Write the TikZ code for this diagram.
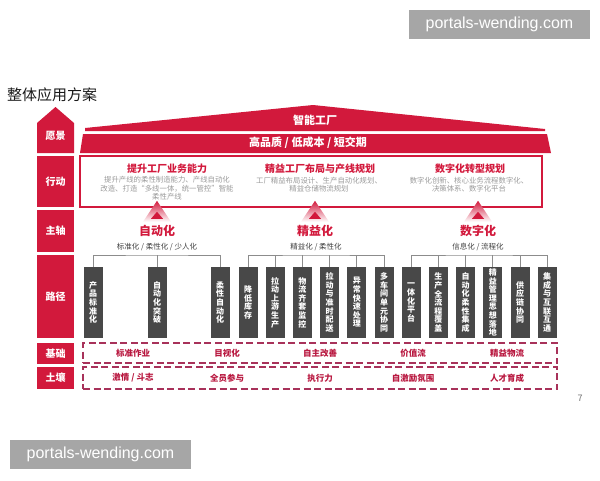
\documentclass[tikz,border=0pt]{standalone}
\usepackage{fontspec}
\setmainfont{Noto Sans CJK SC}
\newfontfamily\wmfont{Liberation Sans}
\definecolor{fangred}{HTML}{D2193C}
\definecolor{colgray}{HTML}{484848}
\definecolor{dashred}{HTML}{A8325A}
\definecolor{basered}{HTML}{B8173F}
\definecolor{subgray}{HTML}{9A9A9A}
\definecolor{wmgray}{HTML}{A6A6A6}
\tikzset{
  rowlabel/.style={fill=fangred,text=white,font=\fontsize{10}{10}\selectfont\bfseries,minimum width=37,inner sep=0pt},
  roofword/.style={text=white,font=\fontsize{11}{11}\selectfont\bfseries,inner sep=0pt},
  acttitle/.style={text=fangred,font=\fontsize{10}{10}\selectfont\bfseries,inner sep=0pt},
  actsub/.style={text=subgray,font=\fontsize{7.4}{8.6}\selectfont,align=center,inner sep=0pt},
  axistitle/.style={text=fangred,font=\fontsize{12}{12}\selectfont\bfseries,inner sep=0pt},
  axissub/.style={text=black!75,font=\fontsize{7.5}{7.5}\selectfont,inner sep=0pt},
  pathcol/.style={fill=colgray,text=white,minimum width=19,minimum height=71,inner sep=0pt,align=center,font=\fontsize{8}{8.6}\selectfont\bfseries},
  bracket/.style={draw=black!45,line width=0.8pt},
  dashbox/.style={draw=dashred,line width=1.8pt,dash pattern=on 7pt off 3.5pt,minimum width=474,minimum height=20,inner sep=0pt},
  baseword/.style={text=basered,font=\fontsize{8.5}{8.5}\selectfont\bfseries,inner sep=0pt},
  watermark/.style={fill=wmgray,text=white,minimum width=181,minimum height=29,inner sep=0pt,font=\wmfont\fontsize{16}{16}\selectfont}
}

\begin{document}
\begin{tikzpicture}[x=1pt,y=-1pt]
  \useasboundingbox (0,0) rectangle (600,480);
  \node[anchor=west,text=black!90,font=\fontsize{15}{15}\selectfont,inner sep=0pt] (title) at (7,95) {整体应用方案};

  % left column
  \fill[fangred] (37,153) -- (37,123) -- (55.5,107) -- (74,123) -- (74,153) -- cycle;
  \node[rowlabel,fill=none] (yj) at (55.5,136) {愿景};
  \node[rowlabel,minimum height=51] (xd) at (55.5,181.5) {行动};
  \node[rowlabel,minimum height=42] (zz) at (55.5,231) {主轴};
  \node[rowlabel,minimum height=83] (lj) at (55.5,296.5) {路径};
  \node[rowlabel,minimum height=21] (jcl) at (55.5,353.5) {基础};
  \node[rowlabel,minimum height=22] (trl) at (55.5,378) {土壤};

  % roof
  \fill[fangred] (85,131) -- (85,128) -- (313,105) -- (545,129) -- (545,131) -- cycle;
  \fill[fangred] (83,134) -- (547,134) -- (551,153) -- (80,153) -- cycle;
  \node[roofword] (vision) at (315,120) {智能工厂};
  \node[roofword] (goals) at (308,143) {高品质 / 低成本 / 短交期};

  % actions
  \node[draw=fangred,line width=1.5pt,minimum width=462,minimum height=51,inner sep=0pt] (act) at (311,181.5) {};
  \node[acttitle] (t1) at (167,169) {提升工厂业务能力};
  \node[actsub] (s1) at (167,188.5) {提升产线的柔性制造能力、产线自动化\\改造、打造“多线一体，统一管控”智能\\柔性产线};
  \node[acttitle] (t2) at (320,169) {精益工厂布局与产线规划};
  \node[actsub] (s2) at (319,184.5) {工厂精益布局设计、生产自动化规划、\\精益仓储物流规划};
  \node[acttitle] (t3) at (470,169) {数字化转型规划};
  \node[actsub] (s3) at (469,184.5) {数字化创新、核心业务流程数字化、\\决策体系、数字化平台};

  % main axis
  \node[axistitle] (ax1) at (157,231) {自动化};
  \node[axistitle] (ax2) at (315,231) {精益化};
  \node[axistitle] (ax3) at (478,231) {数字化};
  \node[axissub] (sb1) at (157,247) {标准化 / 柔性化 / 少人化};
  \node[axissub] (sb2) at (316,247) {精益化 / 柔性化};
  \node[axissub] (sb3) at (478,247) {信息化 / 流程化};
  \foreach \n in {ax1,ax2,ax3} {
    \shade[top color=fangred,bottom color=white] (\n |- act.south) ++(0,-7) -- ++(14,21) -- ++(-28,0) -- cycle;
    \fill[fangred] (\n |- act.south) ++(0,4) -- ++(6,7) -- ++(-12,0) -- cycle;
  }

  % paths
  \foreach \i/\x/\t in {1/93/产\\品\\标\\准\\化, 2/157/自\\动\\化\\突\\破, 3/220/柔\\性\\自\\动\\化,
      4/248/降\\低\\库\\存, 5/275.2/拉\\动\\上\\游\\生\\产, 6/302.4/物\\流\\齐\\套\\监\\控,
      7/329.6/拉\\动\\与\\准\\时\\配\\送, 8/356.8/异\\常\\快\\速\\处\\理, 9/384/多\\车\\间\\单\\元\\协\\同,
      10/411.2/一\\体\\化\\平\\台, 11/438.4/生\\产\\全\\流\\程\\覆\\盖, 12/465.6/自\\动\\化\\柔\\性\\集\\成,
      13/492.8/精\\益\\管\\理\\思\\想\\落\\地, 14/520/供\\应\\链\\协\\同, 15/547.2/集\\成\\与\\互\\联\\互\\通}
    \node[pathcol] (c\i) at (\x,302.5) {\t};

  \coordinate (b1) at (157,255);
  \draw[bracket] (c1.north) |- (b1) -| (c3.north);
  \draw[bracket] (c2.north) -- (b1);
  \coordinate (b2) at (316,255);
  \draw[bracket] (c4.north) |- (b2) -| (c9.north);
  \foreach \i in {5,...,8} \draw[bracket] (c\i.north) -- (c\i.north |- b2);
  \coordinate (b3) at (479,255);
  \draw[bracket] (c10.north) |- (b3) -| (c15.north);
  \foreach \i in {11,...,14} \draw[bracket] (c\i.north) -- (c\i.north |- b3);

  % base and soil
  \node[dashbox] (jc) at (320,353) {};
  \node[dashbox,minimum height=22] (tr) at (320,378) {};
  \foreach \x/\t [count=\k] in {133/标准作业,227/目视化,320/自主改善,413/价值流,507/精益物流}
    \node[baseword] (jw\k) at (\x,353) {\t};
  \foreach \x/\t [count=\k] in {133/{激情 / 斗志},227/全员参与,320/执行力,413/自激励氛围,507/人才育成}
    \node[baseword] (tw\k) at (\x,378) {\t};

  \node[text=black!55,font=\fontsize{9}{9}\selectfont,inner sep=0pt] (pg) at (580,398) {7};
  \node[watermark] (wm1) at (499.5,24.5) {portals-wending.com};
  \node[watermark] (wm2) at (100.5,454.5) {portals-wending.com};
\end{tikzpicture}
\end{document}
